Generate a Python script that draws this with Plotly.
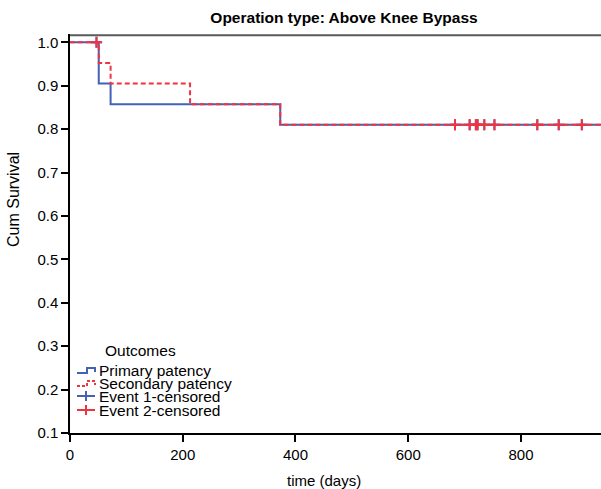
import plotly.graph_objects as go

# ---- data ----
primary_time = [0, 51, 72, 373, 960]
primary_surv = [1.0, 0.905, 0.857, 0.810, 0.810]

secondary_time = [0, 51, 72, 213, 373, 960]
secondary_surv = [1.0, 0.952, 0.905, 0.857, 0.810, 0.810]

censor_time = [47, 683, 709, 720, 723, 735, 753, 829, 867, 908]
censor_surv_primary = [1.0, 0.81, 0.81, 0.81, 0.81, 0.81, 0.81, 0.81, 0.81, 0.81]
censor_surv_secondary = [1.0, 0.81, 0.81, 0.81, 0.81, 0.81, 0.81, 0.81, 0.81, 0.81]

y_ticks = [0.1, 0.2, 0.3, 0.4, 0.5, 0.6, 0.7, 0.8, 0.9, 1.0]
x_ticks = [0, 200, 400, 600, 800]

legend_title = "Outcomes"
legend_labels = ["Primary patency", "Secondary patency", "Event 1-censored", "Event 2-censored"]

BLUE = "#4361b5"
RED = "#ef3340"
FONT = "Liberation Sans, Arial, sans-serif"
W, H = 601, 489

fig = go.Figure()
fig.add_trace(go.Scatter(x=primary_time, y=primary_surv, mode="lines", line_shape="hv",
                         line=dict(color=BLUE, width=2), name=legend_labels[0], showlegend=False))
fig.add_trace(go.Scatter(x=censor_time, y=censor_surv_primary, mode="markers",
                         marker=dict(symbol="cross-thin", size=8, line=dict(color=BLUE, width=2)),
                         name=legend_labels[2], showlegend=False))
fig.add_trace(go.Scatter(x=secondary_time, y=secondary_surv, mode="lines", line_shape="hv",
                         line=dict(color=RED, width=2, dash="5px,3px"), name=legend_labels[1], showlegend=False))
fig.add_trace(go.Scatter(x=censor_time, y=censor_surv_secondary, mode="markers",
                         marker=dict(symbol="cross-thin", size=8, line=dict(color=RED, width=2)),
                         name=legend_labels[3], showlegend=False))

L, R, T, B = 70, 0, 34, 56


def to_paper_x(x):
    return (x - L) / (W - L - R)


def to_paper_y(y):
    return (H - B - y) / (H - T - B)


annotations = []
shapes = []

# legend (positions in window pixels)
annotations.append(dict(text=legend_title, x=to_paper_x(103), y=to_paper_y(350), xref="paper", yref="paper",
                        showarrow=False, xanchor="left", yanchor="middle",
                        font=dict(family=FONT, size=15.5, color="#000")))

rows = [370, 383, 396, 410]
for i, (lab, yy) in enumerate(zip(legend_labels, rows)):
    annotations.append(dict(text=lab, x=to_paper_x(97), y=to_paper_y(yy), xref="paper", yref="paper",
                            showarrow=False, xanchor="left", yanchor="middle",
                            font=dict(family=FONT, size=15.5, color="#000")))
    col = BLUE if i in (0, 2) else RED
    if i < 2:
        pts = [(77, yy + 3), (87, yy + 3), (87, yy - 2), (95, yy - 2), (95, yy + 2)]
        path = "M " + " L ".join(f"{to_paper_x(a)},{to_paper_y(b)}" for a, b in pts)
        shapes.append(dict(type="path", path=path, xref="paper", yref="paper",
                           line=dict(color=col, width=2, dash="solid" if i == 0 else "3px,2px")))
    else:
        shapes.append(dict(type="line", x0=to_paper_x(77), x1=to_paper_x(95), y0=to_paper_y(yy), y1=to_paper_y(yy),
                           xref="paper", yref="paper", line=dict(color=col, width=2)))
        shapes.append(dict(type="line", x0=to_paper_x(86), x1=to_paper_x(86), y0=to_paper_y(yy - 5),
                           y1=to_paper_y(yy + 5), xref="paper", yref="paper", line=dict(color=col, width=2)))

# top frame line (just inside the plot top)
shapes.append(dict(type="line", x0=0, x1=1, y0=0.997, y1=0.997, xref="x domain", yref="y domain",
                   line=dict(color="#5a5a5a", width=2), layer="above"))

# axis titles
annotations.append(dict(text="time (days)", x=to_paper_x(324), y=to_paper_y(480), xref="paper", yref="paper",
                        showarrow=False, xanchor="center", yanchor="middle",
                        font=dict(family=FONT, size=15, color="#000")))
annotations.append(dict(text="Cum Survival", x=to_paper_x(13), y=to_paper_y(200), xref="paper", yref="paper",
                        showarrow=False, xanchor="center", yanchor="middle", textangle=-90,
                        font=dict(family=FONT, size=16, color="#000")))

fig.update_layout(
    width=W, height=H,
    margin=dict(l=L, r=R, t=T, b=B, pad=0, autoexpand=False),
    paper_bgcolor="white", plot_bgcolor="white",
    showlegend=False,
    title=dict(text="<b>Operation type: Above Knee Bypass</b>", x=344 / W, y=1 - 18 / H,
               xanchor="center", yanchor="middle", font=dict(family=FONT, size=15.5, color="#000")),
    xaxis=dict(range=[0, 942], tickvals=x_ticks, ticks="outside", ticklen=7, tickwidth=1.5,
               tickcolor="#000", showgrid=False, zeroline=False, showline=True, linecolor="#000",
               linewidth=1.5, automargin=False, tickfont=dict(family=FONT, size=15, color="#000")),
    yaxis=dict(range=[0.1, 1.019], tickvals=y_ticks, tickformat=".1f", ticks="outside", ticklen=7,
               tickwidth=1.5, tickcolor="#000", showgrid=False, zeroline=False, showline=True,
               linecolor="#000", linewidth=1.5, automargin=False,
               tickfont=dict(family=FONT, size=15, color="#000")),
    annotations=annotations,
    shapes=shapes,
)

fig.write_html("out.html", config={"displayModeBar": False},
               post_script="document.body.style.margin='0';document.body.style.overflow='hidden';")
